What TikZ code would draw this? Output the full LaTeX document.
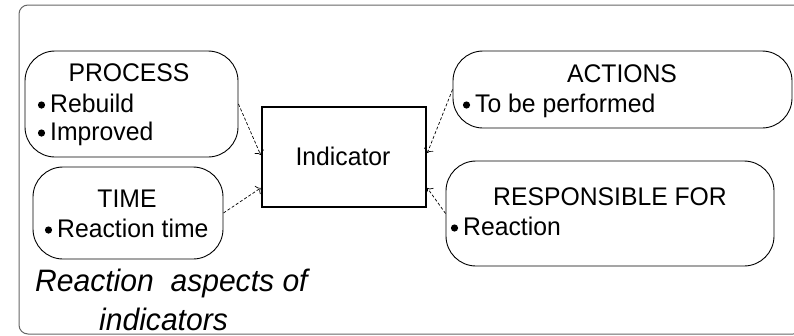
\documentclass[tikz,border=0pt]{standalone}
\usepackage{fontspec}
\setmainfont{Liberation Sans}[FakeStretch=0.97]
\usetikzlibrary{arrows.meta}

\begin{document}
\begin{tikzpicture}[x=1pt,y=-1pt,
  frame/.style={draw=black!60, line width=1pt, rounded corners=9pt},
  box/.style={draw, line width=0.9pt, rounded corners=30pt, inner sep=0pt},
  mainbox/.style={draw, line width=2.6pt, inner sep=0pt},
  title/.style={anchor=base, inner sep=0pt, font=\fontsize{25.5}{28}\selectfont},
  item/.style={anchor=base west, inner sep=0pt, font=\fontsize{25.5}{28}\selectfont},
  caption/.style={anchor=base west, inner sep=0pt, font=\fontsize{31}{32}\selectfont\itshape},
  bullet/.style={fill=black},
  conn/.style={draw, line width=0.7pt, dash pattern=on 3pt off 2pt,
    -{To[length=4pt,width=10pt]}}
]
\useasboundingbox (0,0) rectangle (794,335);

% outer frame, running past the right and bottom edges
\begin{scope}
  \clip (0,0) rectangle (794,335);
  \draw[frame] (19,5) rectangle (802,334);
\end{scope}

% boxes
\node[box, minimum width=213pt, minimum height=106pt] (process) at (131.5,104) {};
\node[box, minimum width=190pt, minimum height=92pt]  (time)    at (128,213) {};
\node[mainbox, minimum width=164pt, minimum height=100pt] (ind) at (344,157) {};
\node[box, minimum width=339pt, minimum height=77pt]  (actions) at (622.5,89.5) {};
\node[box, minimum width=328pt, minimum height=105pt] (resp)    at (610,213.5) {};

% texts
\node[title] (tprocess) at (129,81) {PROCESS};
\node[item] (i1) at (50,112) {Rebuild};
\node[item] (i2) at (50,140) {Improved};

\node[title] (ttime) at (127,207) {TIME};
\node[item] (i3) at (57,237) {Reaction time};

\node[title] (tind) at (343,165) {Indicator};

\node[title] (tactions) at (622,82) {ACTIONS};
\node[item] (i4) at (475,112) {To be performed};

\node[title] (tresp) at (610,205) {RESPONSIBLE FOR};
\node[item] (i5) at (463,235) {Reaction};

\node[caption] (cap1) at (35,291) {Reaction\ \ aspects of};
\node[caption] (cap2) at (99,330) {indicators};

% bullets
\foreach \n in {i1,i2,i3,i4,i5}
  \fill[bullet] ([xshift=-8.5pt,yshift=7pt]\n.base west) circle (3.6pt);

% connectors
\draw[conn] (process.east) -- ([yshift=2pt]ind.west);
\draw[conn] (time.east) -- ([yshift=-31pt]ind.west);
\draw[conn] (actions.west) -- ([yshift=4pt]ind.east);
\draw[conn] (resp.west) -- ([yshift=-31pt]ind.east);
\end{tikzpicture}
\end{document}
